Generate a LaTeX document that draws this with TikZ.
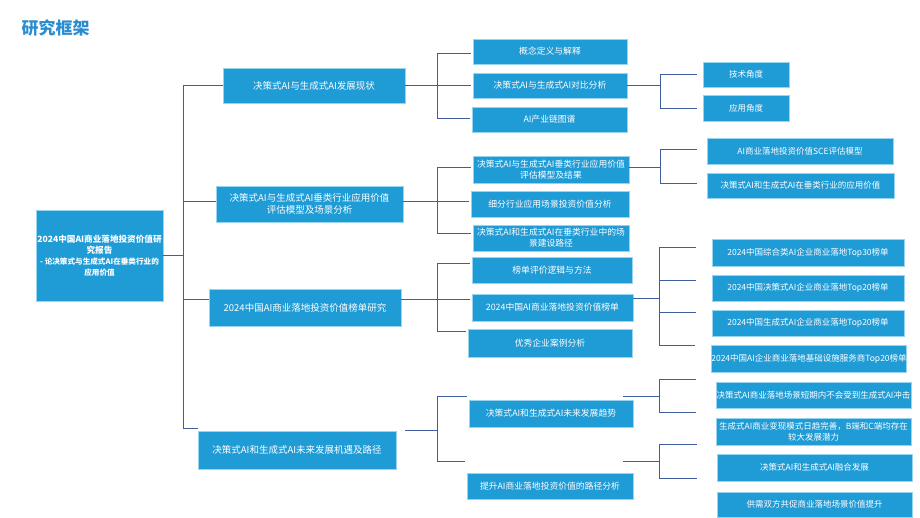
\documentclass[tikz,border=0pt]{standalone}
\usepackage{fontspec}
\newfontfamily\cjk{Noto Sans CJK SC}
\usepackage{xcolor}

\definecolor{boxblue}{RGB}{31,155,214}
\definecolor{boxedge}{RGB}{150,212,240}
\definecolor{linkblue}{RGB}{62,94,160}
\definecolor{titleblue}{RGB}{43,140,208}

\tikzset{
  box/.style={fill=boxblue, draw=boxedge, line width=0.6pt, text=white, align=center, inner sep=0pt, font=\cjk},
  lvlone/.style={box, font=\cjk\fontsize{9.5}{12}\selectfont},
  lvltwo/.style={box, font=\cjk\fontsize{8.8}{11}\selectfont},
  lvlthree/.style={box, font=\cjk\fontsize{8.5}{10.5}\selectfont},
  link/.style={draw=linkblue, line width=0.9pt},
}

\begin{document}
\begin{tikzpicture}[x=1pt, y=-1pt]
  \useasboundingbox (0,0) rectangle (920,518);

  % title
  \node[font=\cjk\bfseries\fontsize{17}{20}\selectfont, text=titleblue, anchor=west] (title) at (18,28) {研究框架};

  % root
  \node[box, font=\cjk\bfseries\fontsize{8.6}{10.5}\selectfont, minimum width=127pt, minimum height=91pt] (root) at (99.5,255.5)
    {2024中国AI商业落地投资价值研\\究报告\\[1pt]
     \fontsize{7.6}{10}\selectfont - 论决策式与生成式AI在垂类行业的\\\fontsize{7.6}{10}\selectfont 应用价值};

  % level one
  \node[lvlone, minimum width=182pt, minimum height=35pt] (A) at (314,85.5) {决策式AI与生成式AI发展现状};
  \node[lvlone, minimum width=187pt, minimum height=36pt] (B) at (309.5,204) {决策式AI与生成式AI垂类行业应用价值\\评估模型及场景分析};
  \node[lvlone, minimum width=192pt, minimum height=37pt] (C) at (305,307.5) {2024中国AI商业落地投资价值榜单研究};
  \node[lvlone, minimum width=198pt, minimum height=38pt] (D) at (297,450) {决策式AI和生成式AI未来发展机遇及路径};

  % level two
  \node[lvltwo, minimum width=154pt, minimum height=25pt] (A1) at (550,51.5) {概念定义与解释};
  \node[lvltwo, minimum width=154pt, minimum height=25pt] (A2) at (550,85.5) {决策式AI与生成式AI对比分析};
  \node[lvltwo, minimum width=155pt, minimum height=25pt] (A3) at (549.5,119.5) {AI产业链图谱};
  \node[lvltwo, minimum width=156pt, minimum height=27pt] (B1) at (551,169.5) {决策式AI与生成式AI垂类行业应用价值\\评估模型及结果};
  \node[lvltwo, minimum width=158pt, minimum height=26pt] (B2) at (550,204) {细分行业应用场景投资价值分析};
  \node[lvltwo, minimum width=156pt, minimum height=26pt] (B3) at (551,238) {决策式AI和生成式AI在垂类行业中的场\\景建设路径};
  \node[lvltwo, minimum width=160pt, minimum height=26pt] (C1) at (552,270) {榜单评价逻辑与方法};
  \node[lvltwo, minimum width=161pt, minimum height=27pt] (C2) at (552.5,307.5) {2024中国AI商业落地投资价值榜单};
  \node[lvltwo, minimum width=164pt, minimum height=28pt] (C3) at (550,343) {优秀企业案例分析};
  \node[lvltwo, minimum width=164pt, minimum height=27pt] (D1) at (551,413.5) {决策式AI和生成式AI未来发展趋势};
  \node[lvltwo, minimum width=166pt, minimum height=26pt] (D2) at (550,486) {提升AI商业落地投资价值的路径分析};

  % level three
  \node[lvlthree, minimum width=86pt, minimum height=25pt] (A21) at (746,74.5) {技术角度};
  \node[lvlthree, minimum width=86pt, minimum height=26pt] (A22) at (746,108) {应用角度};
  \node[lvlthree, minimum width=186pt, minimum height=26pt] (B11) at (800,151) {AI商业落地投资价值SCE评估模型};
  \node[lvlthree, minimum width=187pt, minimum height=25pt] (B12) at (800.5,185.5) {决策式AI和生成式AI在垂类行业的应用价值};
  \node[lvlthree, minimum width=192pt, minimum height=27pt] (C21) at (808,252.5) {2024中国综合类AI企业商业落地Top30榜单};
  \node[lvlthree, minimum width=192pt, minimum height=26pt] (C22) at (808,288) {2024中国决策式AI企业商业落地Top20榜单};
  \node[lvlthree, minimum width=192pt, minimum height=26pt] (C23) at (808,323) {2024中国生成式AI企业商业落地Top20榜单};
  \node[lvlthree, minimum width=194pt, minimum height=27pt] (C24) at (809,358.5) {2024中国AI企业商业落地基础设施服务商Top20榜单};
  \node[lvlthree, minimum width=195pt, minimum height=26pt] (D11) at (813.5,395) {决策式AI商业落地场景短期内不会受到生成式AI冲击};
  \node[lvlthree, minimum width=195pt, minimum height=27pt] (D12) at (813.5,431.5) {生成式AI商业变现模式日趋完善，B端和C端均存在\\较大发展潜力};
  \node[lvlthree, minimum width=195pt, minimum height=27pt] (D21) at (814.5,467.5) {决策式AI和生成式AI融合发展};
  \node[lvlthree, minimum width=195pt, minimum height=25pt] (D22) at (814.5,504.5) {供需双方共促商业落地场景价值提升};

  % root bracket
  \draw[link] (root.east) -- ++(20,0) coordinate (rj);
  \draw[link] (rj) |- (A.west);
  \draw[link] (rj) |- ([yshift=3pt]B.west);
  \draw[link] (rj) |- ([yshift=8pt]C.west);
  \draw[link] (rj) |- ([yshift=2pt]D.north west);

  % A bracket
  \draw[link] (A.east) -- ++(32,0) coordinate (aj);
  \draw[link, shorten >=2pt] (aj) |- ([yshift=-1.5pt]A1.west);
  \draw[link, shorten >=2pt] (aj) |- (A2.west);
  \draw[link, shorten >=2pt] (aj) |- ([yshift=1.5pt]A3.west);

  % B bracket
  \draw[link] ([yshift=3pt]B.east) -- ++(34,0) coordinate (bj);
  \draw[link, shorten >=2pt] (bj) |- ([yshift=2.5pt]B1.west);
  \draw[link, shorten >=2pt] (bj) |- ([yshift=3pt]B2.west);
  \draw[link, shorten >=2pt] (bj) |- ([yshift=5pt]B3.west);

  % C bracket
  \draw[link] ([yshift=8pt]C.east) -- ++(36,0) coordinate (cj);
  \draw[link, shorten >=2pt] (cj) |- ([yshift=7pt]C1.west);
  \draw[link, shorten >=2pt] (cj) |- ([yshift=8.5pt]C2.west);
  \draw[link, shorten >=2pt] (cj) |- ([yshift=12pt]C3.west);

  % D bracket
  \draw[link] ([xshift=9pt,yshift=20pt]D.east) -- ++(32,0) coordinate (dj);
  \draw[link, shorten >=2pt] (dj) |- ([yshift=3pt]D1.north west);
  \draw[link, shorten >=2pt] (dj) |- ([yshift=11pt]D2.north west);

  % A2 bracket
  \draw[link] (A2.east) -- ++(33,0) coordinate (a2j);
  \draw[link, shorten >=6pt] (a2j) |- (A21.west);
  \draw[link, shorten >=6pt] (a2j) |- (A22.west);

  % B1 bracket
  \draw[link] ([yshift=2.5pt]B1.east) -- ++(31,0) coordinate (b1j);
  \draw[link, shorten >=10pt] (b1j) |- ([yshift=2pt]B11.west);
  \draw[link, shorten >=10pt] (b1j) |- ([yshift=2.5pt]B12.west);

  % C2 bracket
  \draw[link] ([yshift=9pt]C2.east) -- ++(26,0) coordinate (c2j);
  \draw[link, shorten >=16pt] (c2j) |- ([yshift=5.5pt]C21.west);
  \draw[link, shorten >=16pt] (c2j) |- ([yshift=8pt]C22.west);
  \draw[link, shorten >=16pt] (c2j) |- ([yshift=11pt]C23.west);
  \draw[link, shorten >=16pt] (c2j) |- ([yshift=13.5pt]C24.west);

  % D1 bracket
  \draw[link] ([xshift=-10pt,yshift=3pt]D1.north east) -- ++(36,0) coordinate (d1j);
  \draw[link, shorten >=20pt] (d1j) |- ([yshift=2pt]D11.north west);
  \draw[link, shorten >=20pt] (d1j) |- ([yshift=5pt]D12.north west);

  % D2 bracket
  \draw[link] ([xshift=-10pt,yshift=11pt]D2.north east) -- ++(36,0) coordinate (d2j);
  \draw[link, shorten >=20pt] (d2j) |- ([yshift=9pt]D21.north west);
  \draw[link, shorten >=20pt] (d2j) |- ([yshift=13pt]D22.north west);
\end{tikzpicture}
\end{document}
